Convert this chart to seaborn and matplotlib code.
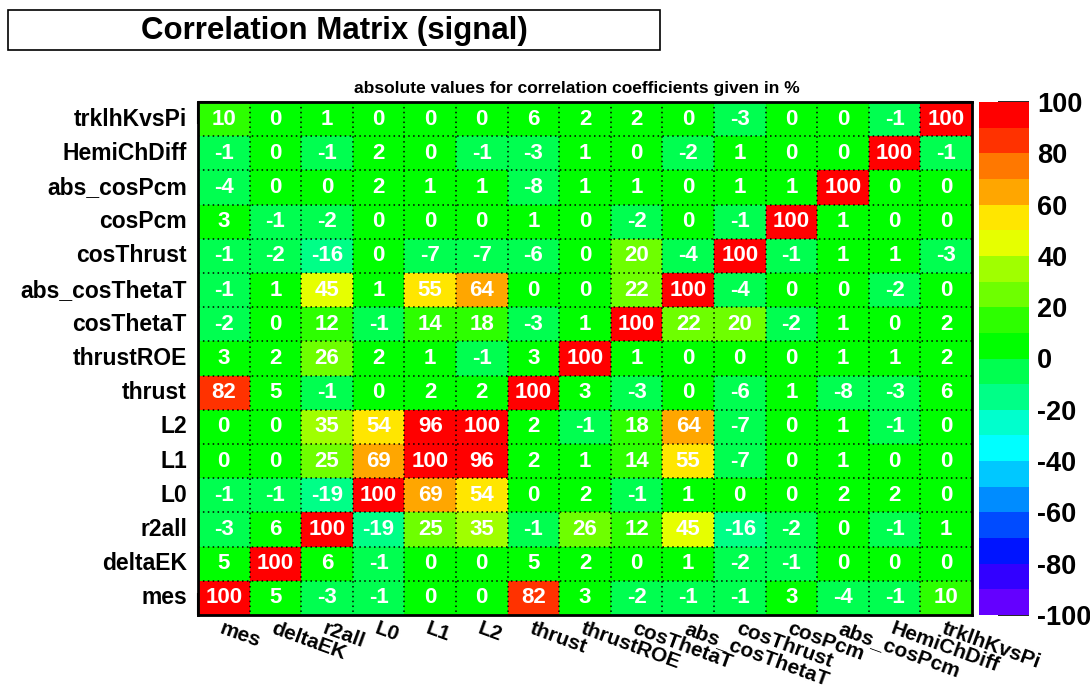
import numpy as np
import pandas as pd
import matplotlib
matplotlib.use("Agg")
import matplotlib.pyplot as plt
from matplotlib.colors import ListedColormap, BoundaryNorm
from matplotlib.patches import Rectangle
import seaborn as sns

# Variable names, top row first (as drawn on the y axis)
row_names = ["trklhKvsPi", "HemiChDiff", "abs_cosPcm", "cosPcm", "cosThrust",
             "abs_cosThetaT", "cosThetaT", "thrustROE", "thrust", "L2", "L1",
             "L0", "r2all", "deltaEK", "mes"]
# Column names, left to right
col_names = ["mes", "deltaEK", "r2all", "L0", "L1", "L2", "thrust", "thrustROE",
             "cosThetaT", "abs_cosThetaT", "cosThrust", "cosPcm", "abs_cosPcm",
             "HemiChDiff", "trklhKvsPi"]

# Correlation coefficients in percent, one list per row
r_trklhKvsPi    = [10, 0, 1, 0, 0, 0, 6, 2, 2, 0, -3, 0, 0, -1, 100]
r_HemiChDiff    = [-1, 0, -1, 2, 0, -1, -3, 1, 0, -2, 1, 0, 0, 100, -1]
r_abs_cosPcm    = [-4, 0, 0, 2, 1, 1, -8, 1, 1, 0, 1, 1, 100, 0, 0]
r_cosPcm        = [3, -1, -2, 0, 0, 0, 1, 0, -2, 0, -1, 100, 1, 0, 0]
r_cosThrust     = [-1, -2, -16, 0, -7, -7, -6, 0, 20, -4, 100, -1, 1, 1, -3]
r_abs_cosThetaT = [-1, 1, 45, 1, 55, 64, 0, 0, 22, 100, -4, 0, 0, -2, 0]
r_cosThetaT     = [-2, 0, 12, -1, 14, 18, -3, 1, 100, 22, 20, -2, 1, 0, 2]
r_thrustROE     = [3, 2, 26, 2, 1, -1, 3, 100, 1, 0, 0, 0, 1, 1, 2]
r_thrust        = [82, 5, -1, 0, 2, 2, 100, 3, -3, 0, -6, 1, -8, -3, 6]
r_L2            = [0, 0, 35, 54, 96, 100, 2, -1, 18, 64, -7, 0, 1, -1, 0]
r_L1            = [0, 0, 25, 69, 100, 96, 2, 1, 14, 55, -7, 0, 1, 0, 0]
r_L0            = [-1, -1, -19, 100, 69, 54, 0, 2, -1, 1, 0, 0, 2, 2, 0]
r_r2all         = [-3, 6, 100, -19, 25, 35, -1, 26, 12, 45, -16, -2, 0, -1, 1]
r_deltaEK       = [5, 100, 6, -1, 0, 0, 5, 2, 0, 1, -2, -1, 0, 0, 0]
r_mes           = [100, 5, -3, -1, 0, 0, 82, 3, -2, -1, -1, 3, -4, -1, 10]

rows = [r_trklhKvsPi, r_HemiChDiff, r_abs_cosPcm, r_cosPcm, r_cosThrust,
        r_abs_cosThetaT, r_cosThetaT, r_thrustROE, r_thrust, r_L2, r_L1,
        r_L0, r_r2all, r_deltaEK, r_mes]
corr = pd.DataFrame(rows, index=row_names, columns=col_names)

# 20-level rainbow palette, from -100 up to +100
palette_rgb = [
    (100, 0, 255), (50, 0, 255), (0, 20, 255), (0, 75, 255), (0, 140, 255),
    (0, 200, 255), (0, 255, 255), (0, 255, 205), (0, 255, 135), (0, 255, 80),
    (0, 255, 0), (45, 255, 0), (110, 255, 0), (160, 255, 0), (230, 255, 0),
    (255, 230, 0), (255, 166, 0), (255, 120, 0), (255, 50, 0), (255, 0, 0),
]
cmap = ListedColormap([(r / 255, g / 255, b / 255) for r, g, b in palette_rgb])
bounds = np.arange(-100, 101, 10)
norm = BoundaryNorm(bounds, cmap.N)
cbar_ticks = np.arange(-100, 101, 20)

sns.set_style("white")
plt.rcParams["font.family"] = ["Liberation Sans", "DejaVu Sans"]
plt.rcParams["font.weight"] = "bold"
for key in ["text.color", "axes.labelcolor", "xtick.color", "ytick.color"]:
    plt.rcParams[key] = "black"

W, H = 1090, 691
fig = plt.figure(figsize=(W / 100, H / 100), dpi=100)
fig.patch.set_facecolor("white")

def fig_rect(x0, y0, x1, y1):
    return [x0 / W, 1 - y1 / H, (x1 - x0) / W, (y1 - y0) / H]

ax = fig.add_axes(fig_rect(198, 102, 972, 615))
cax = fig.add_axes(fig_rect(979, 102, 1029, 615))

sns.heatmap(corr, ax=ax, cbar_ax=cax, cmap=cmap, norm=norm,
            vmin=-100, vmax=100, annot=True, fmt="d",
            annot_kws={"color": "white", "fontweight": "bold", "fontsize": 16},
            cbar_kws={"ticks": cbar_ticks})

n_rows, n_cols = corr.shape

# Dotted grid on the cell boundaries
ax.hlines(np.arange(1, n_rows), 0, n_cols, colors="black",
          linestyles=(0, (1, 2.2)), linewidth=1.1)
ax.vlines(np.arange(1, n_cols), 0, n_rows, colors="black",
          linestyles=(0, (1, 2.2)), linewidth=1.1)

# Frame
for side in ["left", "right", "top", "bottom"]:
    ax.spines[side].set_visible(True)
    ax.spines[side].set_color("black")
    ax.spines[side].set_linewidth(2)

# Labels at cell centres, tick marks on cell edges
ax.set_yticks(np.arange(n_rows) + 0.5)
ax.set_yticklabels(row_names, rotation=0, fontsize=16.5, fontweight="bold")
ax.set_xticks(np.arange(n_cols) + 0.5)
ax.set_xticklabels(col_names, rotation=-20, ha="left", va="top",
                   rotation_mode="anchor", fontsize=15, fontweight="bold")
ax.tick_params(axis="y", which="major", length=0, pad=8)
ax.tick_params(axis="x", which="major", length=0, pad=3)
ax.set_yticks(np.arange(0, n_rows + 1), minor=True)
ax.set_xticks(np.arange(0, n_cols + 1), minor=True)
ax.tick_params(which="minor", direction="in", length=16, width=1.5,
               color="black", left=True, right=True, bottom=True, top=True)
ax.set_xlabel("")
ax.set_ylabel("")

# Colour bar
cbar = ax.collections[0].colorbar
cbar.outline.set_visible(False)
cax.yaxis.set_ticks_position("right")
cax.tick_params(axis="y", direction="in", length=22, width=1.2, color="black",
                pad=6, labelsize=19.5)
cbar.set_ticklabels([str(t) for t in cbar_ticks])
for lbl in cax.get_yticklabels():
    lbl.set_fontweight("bold")
cax.minorticks_off()

# Title box
fig.patches.append(Rectangle((8 / W, 1 - 50 / H), (660 - 8) / W, 40 / H,
                             transform=fig.transFigure, facecolor="white",
                             edgecolor="black", linewidth=1.2, zorder=1))
fig.text(334 / W, 1 - 31 / H, "Correlation Matrix (signal)", ha="center",
         va="center", fontsize=22.5, fontweight="bold", zorder=2)

# Subtitle
fig.text(577 / W, 1 - 89 / H,
         "absolute values for correlation coefficients given in %",
         ha="center", va="center", fontsize=12.5, fontweight="bold")

fig.savefig("out.png", dpi=100, facecolor="white")
